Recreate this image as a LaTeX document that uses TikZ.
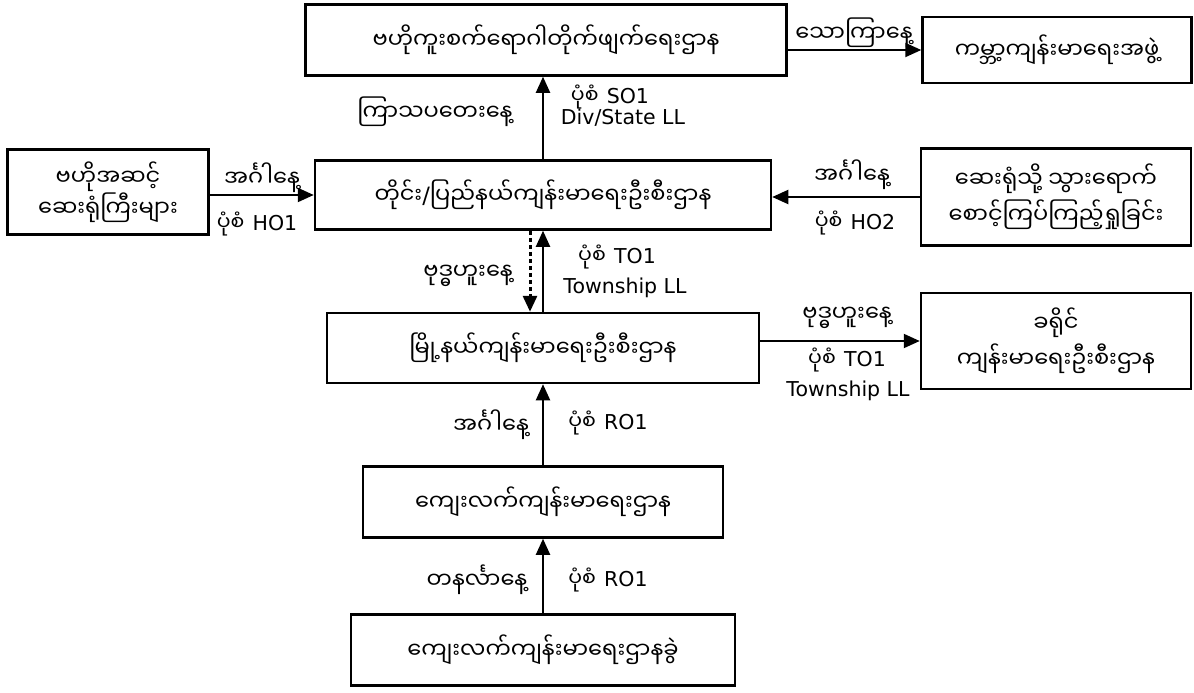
\documentclass[tikz,border=0pt]{standalone}
\usepackage{fontspec}
\setmainfont{DejaVu Sans}
\newfontfamily\my[Script=Myanmar]{Noto Sans Myanmar UI}
\usetikzlibrary{arrows.meta}
\begin{document}
\begin{tikzpicture}[x=1pt,y=-1pt,line width=2pt,
  box/.style={draw,line width=2.5pt,inner sep=0,align=center,font=\my\fontsize{22.5}{36}\selectfont},
  lbl/.style={inner sep=0,font=\fontsize{20.5}{24}\selectfont},
  my/.style={lbl,font=\my\fontsize{22.5}{24}\selectfont},
  arr/.style={-{Triangle[length=16pt,width=14pt]}}]
\useasboundingbox (0,0) rectangle (1194,693);
% boxes
\node[box,minimum width=481,minimum height=71](cdc)at(546,40){ဗဟိုကူးစက်ရောဂါတိုက်ဖျက်ရေးဌာန};
\node[box,minimum width=269,minimum height=66](who)at(1057,50){ကမ္ဘာ့ကျန်းမာရေးအဖွဲ့};
\node[box,minimum width=201,minimum height=85](hosp)at(108,192){ဗဟိုအဆင့်\\[-5pt]ဆေးရုံကြီးများ};
\node[box,minimum width=456,minimum height=69](state)at(543,195){တိုင်း{\normalfont/}ပြည်နယ်ကျန်းမာရေးဦးစီးဌာန};
\node[box,minimum width=270,minimum height=97](visit)at(1056,197){ဆေးရုံသို့ သွားရောက်\\စောင့်ကြပ်ကြည့်ရှုခြင်း};
\node[box,minimum width=432,minimum height=70](town)at(543,348){မြို့နယ်ကျန်းမာရေးဦးစီးဌာန};
\node[box,minimum width=270,minimum height=96](dist)at(1056,341){ခရိုင်\\ကျန်းမာရေးဦးစီးဌာန};
\node[box,minimum width=360,minimum height=71](rhc)at(543,502){ကျေးလက်ကျန်းမာရေးဌာန};
\node[box,minimum width=384,minimum height=71](sub)at(543,650){ကျေးလက်ကျန်းမာရေးဌာနခွဲ};
% connectors
\draw[arr](cdc.east|-who.west)--(who.west);
\draw[arr](state.north)--(state.north|-cdc.south);
\draw[arr](state.west-|hosp.east)--(state.west);
\draw[arr](visit.west)--(visit.west-|state.east);
\draw[arr](town.north)--(state.south);
\draw[arr,line width=3pt,dash pattern=on 4pt off 3pt]([xshift=-13pt]state.south)--([xshift=-13pt]town.north);
\draw[arr](dist.west-|town.east)--(dist.west);
\draw[arr](rhc.north)--(town.south);
\draw[arr](sub.north)--(rhc.south);
% labels
\node[my](l1)at(854,33){သောကြာနေ့};
\node[my](l2)at(435,112){ကြာသပတေးနေ့};
\node[lbl](l3)at(610,97){{\my ပုံစံ\hspace{.4em}}SO1};
\node[lbl](l4)at(623,118){Div/State LL};
\node[my](l5)at(262,178){အင်္ဂါနေ့};
\node[lbl](l6)at(257,224){{\my ပုံစံ\hspace{.4em}}HO1};
\node[my](l7)at(852,175){အင်္ဂါနေ့};
\node[lbl](l8)at(855,223){{\my ပုံစံ\hspace{.4em}}HO2};
\node[my](l9)at(468,276){ဗုဒ္ဓဟူးနေ့};
\node[lbl](l10)at(617,257){{\my ပုံစံ\hspace{.4em}}TO1};
\node[lbl](l11)at(625,288){Township LL};
\node[my](l12)at(847,318){ဗုဒ္ဓဟူးနေ့};
\node[lbl](l13)at(847,360){{\my ပုံစံ\hspace{.4em}}TO1};
\node[lbl](l14)at(848,391){Township LL};
\node[my](l15)at(491,425){အင်္ဂါနေ့};
\node[lbl](l16)at(608,423){{\my ပုံစံ\hspace{.4em}}RO1};
\node[my](l17)at(477,580){တနင်္လာနေ့};
\node[lbl](l18)at(608,580){{\my ပုံစံ\hspace{.4em}}RO1};
\end{tikzpicture}
\end{document}
